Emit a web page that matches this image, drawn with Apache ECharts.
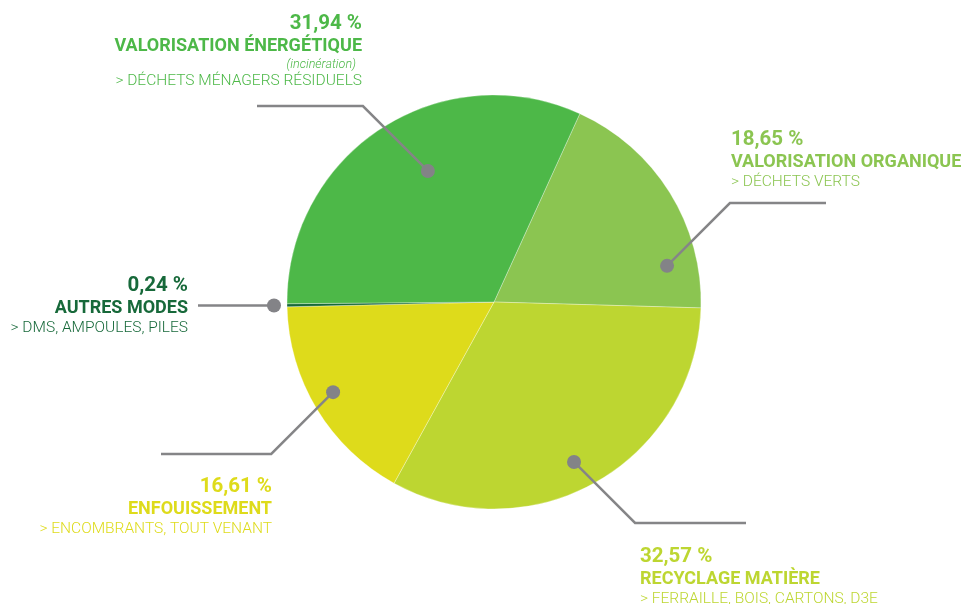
<!DOCTYPE html>
<html>
<head>
<meta charset="utf-8">
<script src="https://cdn.jsdelivr.net/npm/echarts@6/dist/echarts.min.js"></script>
<style>
html,body{margin:0;padding:0;background:#fff;}
#main{width:965px;height:604px;}
</style>
</head>
<body>
<div id="main"></div>
<script>
// data
var categories = ['VALORISATION ORGANIQUE', 'RECYCLAGE MATIÈRE', 'ENFOUISSEMENT', 'AUTRES MODES', 'VALORISATION ÉNERGÉTIQUE'];
var values = [18.65, 32.57, 16.61, 0.24, 31.94];
var notes = ['', '', '', '', '(incinération)'];
var details = ['> DÉCHETS VERTS', '> FERRAILLE, BOIS, CARTONS, D3E', '> ENCOMBRANTS, TOUT VENANT', '> DMS, AMPOULES, PILES', '> DÉCHETS MÉNAGERS RÉSIDUELS'];

// styles
var colors = ['#8bc551', '#bdd631', '#dedb1b', '#17693a', '#4db848'];
var cx = 494, cy = 302, R = 207, startAngle = 65.5;

// leader layout : dot (fraction across the slice, radius fraction), elbow y, end x, label anchor
var leaders = [
    {frac: 0.80, r: 0.854, elbowY: 203, endX: 826, lx: 731, ly: 128, align: 'left'},
    {frac: 0.527, r: 0.864, elbowY: 523, endX: 746, lx: 640, ly: 545, align: 'left'},
    {frac: 0.533, r: 0.891, elbowY: 454, endX: 161, lx: 272, ly: 475, align: 'right'},
    {frac: 0.5, r: 1.063, elbowY: null, endX: 198, lx: 188, ly: 274, align: 'right'},
    {frac: 0.554, r: 0.709, elbowY: 106, endX: 257, lx: 362, ly: 12, align: 'right'}
];

var total = values.reduce(function (a, b) { return a + b; }, 0);
var dots = [];
var cum = 0;
values.forEach(function (v, i) {
    var p = (cum + v * leaders[i].frac) / total * 100;
    dots.push([leaders[i].r, p]);
    cum += v;
});

function dotPixel(i) {
    var a = (startAngle - dots[i][1] * 3.6) * Math.PI / 180;
    return [cx + R * dots[i][0] * Math.cos(a), cy - R * dots[i][0] * Math.sin(a)];
}

var pieData = values.map(function (v, i) {
    return {name: categories[i], value: v, itemStyle: {color: colors[i]}};
});

var labelData = values.map(function (v, i) {
    var c = colors[i];
    return {
        name: categories[i],
        value: v,
        label: {
            rich: {
                p: {color: c, fontSize: 20.5, fontWeight: 'bold', lineHeight: 24, fontFamily: 'Roboto'},
                n: {color: c, fontSize: 18, fontWeight: 'bold', lineHeight: 21, fontFamily: 'Roboto'},
                s: {color: c, fontSize: 12.5, fontStyle: 'italic', fontWeight: 300, lineHeight: 15, fontFamily: 'Roboto', padding: [0, 6, 0, 0]},
                d: {color: c, fontSize: 15.5, fontWeight: 300, lineHeight: 19, fontFamily: 'Roboto'}
            }
        }
    };
});

var option = {
    animation: false,
    // polar grid matching the pie, 1.2x wide so the outer dot stays inside the axis
    polar: {center: [cx, cy], radius: R * 1.2},
    angleAxis: {type: 'value', min: 0, max: 100, startAngle: startAngle, clockwise: true, show: false},
    radiusAxis: {type: 'value', min: 0, max: 1.2, show: false},
    series: [
        {
            type: 'pie',
            center: [cx, cy],
            radius: R,
            startAngle: startAngle,
            clockwise: true,
            silent: true,
            z: 1,
            itemStyle: {borderColor: 'rgba(255,255,255,0.5)', borderWidth: 0.6},
            label: {show: false},
            labelLine: {show: false},
            data: pieData
        },
        {
            // transparent copy carrying the labels and leader lines above the slices
            type: 'pie',
            center: [cx, cy],
            radius: R,
            startAngle: startAngle,
            clockwise: true,
            avoidLabelOverlap: false,
            silent: true,
            z: 3,
            itemStyle: {color: 'rgba(0,0,0,0)'},
            label: {
                show: true,
                position: 'outside',
                formatter: function (params) {
                    var i = params.dataIndex;
                    var s = '{p|' + values[i].toFixed(2).replace('.', ',') + ' %}\n{n|' + categories[i] + '}';
                    if (notes[i]) s += '\n{s|' + notes[i] + '}';
                    return s + '\n{d|' + details[i] + '}';
                }
            },
            labelLine: {show: true, lineStyle: {color: '#858587', width: 2.5}},
            labelLayout: function (params) {
                var i = params.dataIndex;
                var l = leaders[i];
                var d = dotPixel(i);
                var ey = l.elbowY == null ? d[1] : l.elbowY;
                var sign = l.endX > d[0] ? 1 : -1;
                var elbow = [d[0] + sign * Math.abs(ey - d[1]), ey];
                return {
                    x: l.lx,
                    y: l.ly,
                    align: l.align,
                    verticalAlign: 'top',
                    labelLinePoints: [d, elbow, [l.endX, ey]]
                };
            },
            data: labelData
        },
        {
            type: 'scatter',
            coordinateSystem: 'polar',
            symbolSize: 14,
            silent: true,
            z: 5,
            itemStyle: {color: '#838387', opacity: 1},
            data: dots
        }
    ]
};

echarts.init(document.getElementById('main')).setOption(option);
</script>
</body>
</html>
